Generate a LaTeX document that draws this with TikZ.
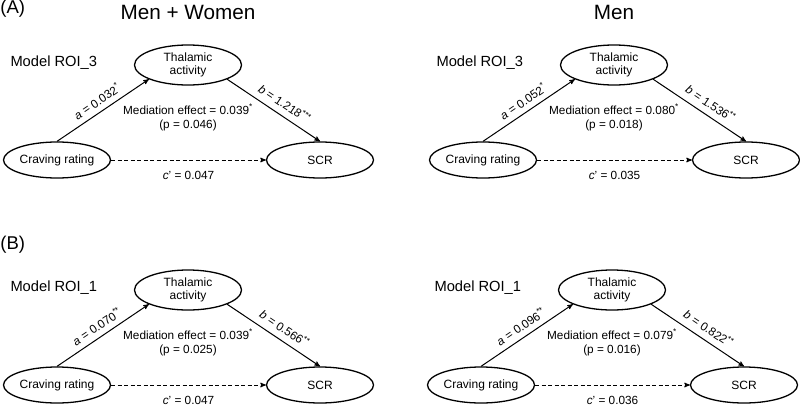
\documentclass[tikz,border=0pt]{standalone}
\usepackage{fontspec}
\setmainfont{Liberation Sans}
\usepackage{tikz}
\usetikzlibrary{arrows,shapes.geometric,positioning}

% one mediation model: #1 shift, #2 name, #3 ROI, #4 a, #5 b, #6 effect, #7 p, #8 c'
\newcommand{\medpanel}[8]{%
  \begin{scope}[shift={#1}]
    \node[var,minimum height=40pt] (#2-thal) at (188,65)  {Thalamic\\activity};
    \node[var]                     (#2-crav) at (57,160)  {Craving rating};
    \node[var]                     (#2-scr)  at (320,160) {SCR};
    \node[model]                   (#2-roi)  at (10,63)   {Model ROI\_#3};
    \node[note] (#2-med) [below=18pt of #2-thal] {Mediation effect = #6\\(p = #7)};

    \path (#2-crav.north) edge node[above=2pt,sloped]          {\textit{a} = #4} (#2-thal.200)
          (#2-thal.-20)   edge node[above=3pt,sloped,pos=0.55] {\textit{b} = #5} (#2-scr.north)
          (#2-crav)       edge [dash pattern=on 4pt off 2.5pt]
                               node[below=7pt]                 {\textit{c}’ = #8} (#2-scr);
  \end{scope}}

\begin{document}
\begin{tikzpicture}[x=1pt,y=-1pt,->,>=stealth',line width=1pt,
                    font=\fontsize{11.8}{14}\selectfont]
  \tikzstyle{var}=[ellipse,draw,line width=1.3pt,minimum width=107pt,minimum height=36pt,
                   inner sep=0pt,align=center,font=\fontsize{12}{13.3}\selectfont]
  \tikzstyle{note}=[align=center,inner sep=0pt]
  \tikzstyle{model}=[anchor=west,inner sep=0pt,font=\fontsize{14.7}{16}\selectfont]
  \tikzstyle{panel}=[anchor=north west,inner sep=0pt,font=\fontsize{18.5}{20}\selectfont]
  \tikzstyle{title}=[inner sep=0pt,font=\fontsize{20.7}{22}\selectfont]

  \useasboundingbox (0,0) rectangle (800,407);

  \medpanel{(0,0)}{AL}{3}{0.032\textsuperscript{*}}{1.218\textsuperscript{***}}{0.039\textsuperscript{*}}{0.046}{0.047}
  \medpanel{(426,0)}{AR}{3}{0.052\textsuperscript{*}}{1.536\textsuperscript{**}}{0.080\textsuperscript{*}}{0.018}{0.035}
  \medpanel{(0,225)}{BL}{1}{0.070\textsuperscript{**}}{0.566\textsuperscript{**}}{0.039\textsuperscript{*}}{0.025}{0.047}
  \medpanel{(424,225)}{BR}{1}{0.096\textsuperscript{**}}{0.822\textsuperscript{**}}{0.079\textsuperscript{*}}{0.016}{0.036}

  \node[panel] (A) at (0,0)   {(A)};
  \node[panel] (B) at (0,236) {(B)};
  \node[title] (both) [above=24.6pt of AL-thal] {Men + Women};
  \node[title] (men)  [above=24.6pt of AR-thal] {Men};
\end{tikzpicture}
\end{document}
